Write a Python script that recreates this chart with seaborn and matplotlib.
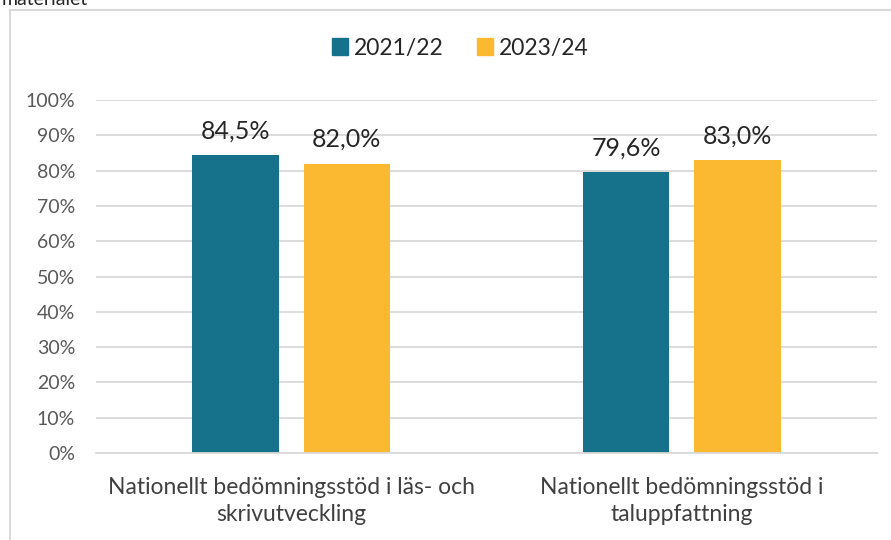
import pandas as pd
import matplotlib
matplotlib.use("Agg")
import matplotlib.pyplot as plt
import seaborn as sns
from matplotlib.patches import Rectangle
from matplotlib.ticker import PercentFormatter

# data
kategorier = ["Nationellt bedömningsstöd i läs- och\nskrivutveckling",
              "Nationellt bedömningsstöd i\ntaluppfattning"]
ar = ["2021/22", "2023/24"]
varden_2122 = [0.845, 0.796]
varden_2324 = [0.820, 0.830]
etiketter_2122 = ["84,5%", "79,6%"]
etiketter_2324 = ["82,0%", "83,0%"]

df = pd.DataFrame({
    "kategori": kategorier * 2,
    "ar": [ar[0]] * 2 + [ar[1]] * 2,
    "andel": varden_2122 + varden_2324,
})

sns.set_style("white")
plt.rcParams["font.family"] = ["Lato", "DejaVu Sans"]

W, H = 891, 540
fig = plt.figure(figsize=(W / 100, H / 100), dpi=100)
ax = fig.add_axes([96 / W, 1 - 453 / H, (877 - 96) / W, (453 - 100) / H])

farger = {"2021/22": "#16718A", "2023/24": "#FBB831"}
sns.barplot(data=df, x="kategori", y="andel", hue="ar", hue_order=ar,
            palette=farger, saturation=1, width=0.57, gap=0.225,
            linewidth=0, ax=ax)

ax.set_ylim(0, 1)
ax.set_yticks([i / 10 for i in range(11)])
ax.yaxis.set_major_formatter(PercentFormatter(1.0, decimals=0))
ax.grid(axis="y", color="#D9D9D9", linewidth=1.3)
ax.set_axisbelow(True)
for s in ["top", "right", "left"]:
    ax.spines[s].set_visible(False)
ax.spines["bottom"].set_color("#D9D9D9")
ax.spines["bottom"].set_linewidth(1.3)
ax.tick_params(axis="y", length=0, pad=15, labelsize=14, labelcolor="#595959")
ax.tick_params(axis="x", length=0, pad=17, labelsize=16.5, labelcolor="#404040")
for t in ax.get_xticklabels():
    t.set_linespacing(1.35)
ax.set_xlabel("")
ax.set_ylabel("")

for cont, lab in zip(ax.containers, [etiketter_2122, etiketter_2324]):
    ax.bar_label(cont, labels=lab, padding=9, fontsize=18, color="#262626")

ax.legend_.remove()
handles = [Rectangle((0, 0), 1, 1, color=farger[a]) for a in ar]
fig.legend(handles, ar, loc="center", bbox_to_anchor=(460 / W, 1 - 48 / H),
           ncol=2, frameon=False, fontsize=16.5, handlelength=0.7,
           handleheight=0.7, handletextpad=0.25, columnspacing=1.45,
           labelcolor="#262626")

# chart frame and clipped caption from the source document
fig.patches.append(Rectangle((10 / W, -0.05), 1.1, 1 - 10 / H + 0.05,
                             transform=fig.transFigure, fill=False,
                             edgecolor="#D9D9D9", linewidth=1.5))
fig.text(2 / W, 1 - 5 / H, "materialet", fontsize=14, va="baseline",
         color="#262626")

fig.savefig("out.png", dpi=100)
